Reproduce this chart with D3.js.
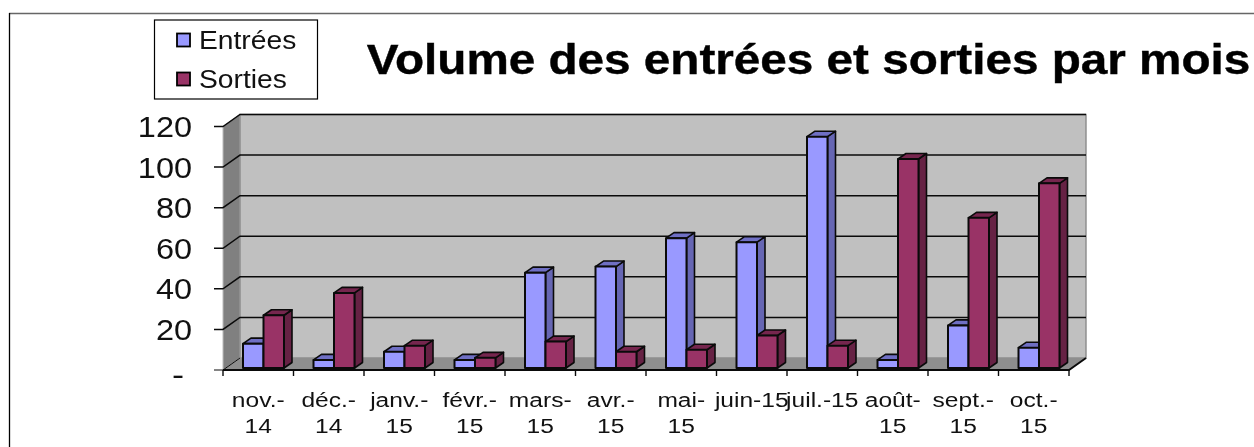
<!DOCTYPE html>
<html><head><meta charset="utf-8">
<script src="https://cdn.jsdelivr.net/npm/d3@7"></script>
<style>html,body{margin:0;padding:0;background:#fff}svg{display:block}text{font-family:"Liberation Sans",Arial,sans-serif;fill:#111;filter:blur(0.35px)}</style>
</head><body><svg id="c" width="1254" height="447"></svg>
<script>
const categories = ["nov.-|14","déc.-|14","janv.-|15","févr.-|15","mars-|15","avr.-|15","mai-|15","juin-15","juil.-15","août-|15","sept.-|15","oct.-|15"];
const entrees = [12,4,8,4,47,50,64,62,114,4,21,10];
const sorties = [26,37,11,5,13,8,9,16,11,103,74,91];
const yTicks = [0,20,40,60,80,100,120];
const titleText = "Volume des entrées et sorties par mois";
const seriesNames = ["Entrées","Sorties"];

const svg = d3.select("#c");
const dx = 17, dy = 12;
const x = d3.scaleBand().domain(categories).range([223,1069]);
const y = d3.scaleLinear().domain([0,120]).range([370,126.5]);
const yBar = d3.scaleLinear().domain([0,120]).range([368,124.5]);
const bw = 20.5, off = 20;
const ink = "#0a0a0a";
const poly = (pts,fill,sw=1.6)=>svg.append("polygon").attr("points",pts.map(p=>p.join(",")).join(" "))
  .attr("fill",fill).attr("stroke",ink).attr("stroke-width",sw).attr("stroke-linejoin","round");
// stretched label: the reference text is wider than its height implies
const label=(str,px,py,size,sx,anchor="start")=>svg.append("text")
  .attr("transform",`translate(${px},${py}) scale(${sx},1)`).attr("text-anchor",anchor).attr("font-size",size).text(str);

// frame
svg.append("path").attr("d","M9,13.5H1254").attr("stroke","#666").attr("stroke-width",1.3).attr("fill","none");
svg.append("path").attr("d","M9.5,13V447").attr("stroke","#000").attr("stroke-width",1.3).attr("fill","none");

// walls
const L=x.range()[0],R=x.range()[1],B=y(0),T=y(120);
svg.append("polygon").attr("points",`${L},${B} ${L+dx},${B-dy} ${L+dx},${T-dy} ${L},${T}`).attr("fill","#808080").attr("stroke","#bbb").attr("stroke-width",1);
svg.append("rect").attr("x",L+dx).attr("y",T-dy).attr("width",R-L).attr("height",B-T).attr("fill","#c0c0c0").attr("stroke","#8a8a8a").attr("stroke-width",1.4);
svg.append("polygon").attr("points",`${L},${B} ${L+dx},${B-dy} ${R+dx},${B-dy} ${R},${B}`).attr("fill","#8e8e8e");

// gridlines and ticks
yTicks.forEach(t=>{
  const yy=y(t);
  svg.append("path").attr("fill","none").attr("stroke",ink).attr("stroke-width",t==0?1:1.5)
    .attr("d",`M${L-9},${yy}H${L}L${L+dx},${yy-dy}`+(t==0?"":`H${R+dx}`));
  if(t==0) label("-",184,yy+15,29,1.25,"end");
  else label(t,192,yy+10.5,29,1.12,"end");
});
// category axis
svg.append("path").attr("fill","none").attr("stroke",ink).attr("stroke-width",1.9)
  .attr("d",`M${L},${B}H${R}L${R+dx},${B-dy}`);
const edges=[...categories.map(c=>x(c)),R];
edges.forEach(e=>svg.append("line").attr("x1",e).attr("x2",e).attr("y1",B).attr("y2",B+6).attr("stroke",ink).attr("stroke-width",1.4));
categories.forEach(c=>{
  c.split("|").forEach((p,i)=>label(p,x(c)+x.bandwidth()/2,406.5+i*26.5,21,1.17,"middle"));
});

// bars
const bar=(cat,v,i,front,top,side)=>{
  const x0=x(cat)+off+i*bw, x1=x0+bw, y0=yBar(0), y1=yBar(v), d=8, h=5.5;
  poly([[x1,y0],[x1+d,y0-h],[x1+d,y1-h],[x1,y1]],side);
  poly([[x0,y1],[x0+d,y1-h],[x1+d,y1-h],[x1,y1]],top);
  poly([[x0,y0],[x1,y0],[x1,y1],[x0,y1]],front,2);
};
categories.forEach((c,k)=>{
  bar(c,entrees[k],0,"#9999ff","#6f6fc4","#6666b3");
  bar(c,sorties[k],1,"#993366","#76264e","#662244");
});

// title
label(titleText,808.5,74,42,1.135,"middle").attr("font-weight","bold").style("fill","#000").attr("stroke","#000").attr("stroke-width",0.4);

// legend
svg.append("rect").attr("x",154.5).attr("y",20).attr("width",163).attr("height",79).attr("fill","#fff").attr("stroke","#000").attr("stroke-width",1.2);
seriesNames.forEach((n,i)=>{
  const ly=40+i*39;
  svg.append("rect").attr("x",177).attr("y",ly-6.5).attr("width",13).attr("height",13).attr("fill",i?"#993366":"#9999ff").attr("stroke","#000").attr("stroke-width",1.8);
  label(n,199,ly+8.5,25,1.13);
});
</script></body></html>
